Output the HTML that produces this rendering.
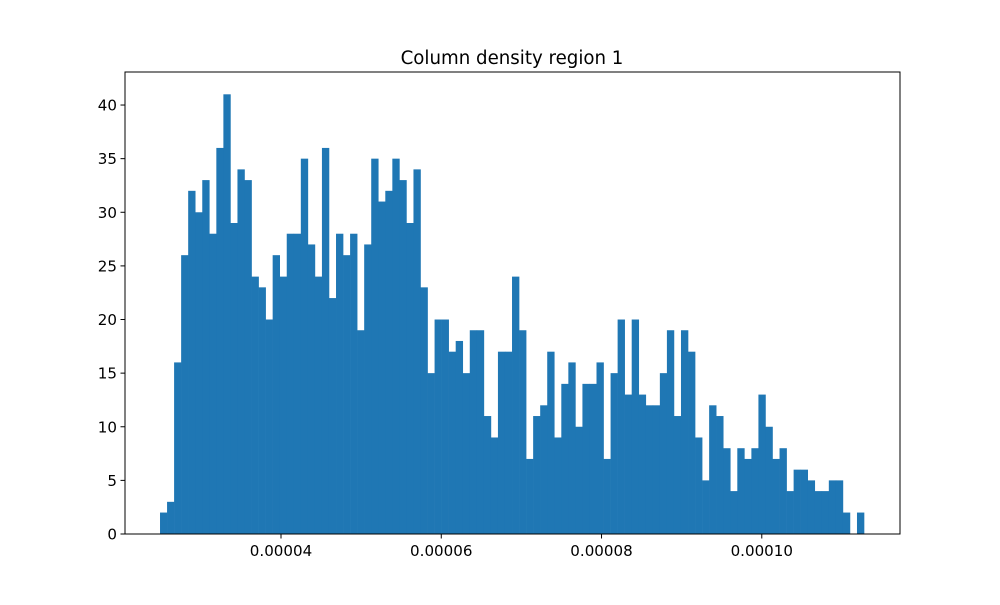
<!DOCTYPE html>
<html><head><meta charset="utf-8"><style>
body{margin:0;background:#fff}
svg text{font-family:"DejaVu Sans","Liberation Sans",sans-serif;fill:#000}
</style></head><body>
<svg id="chart" width="1000" height="600">
<rect width="1000" height="600" fill="#fff"/>
<text x="512" y="64" font-size="18.2" text-anchor="middle">Column density region 1</text>
<g id="bars"></g>
<g id="axes"></g>
</svg>
<script>
const counts = [2,3,16,26,32,30,33,28,36,41,29,34,33,24,23,20,26,24,28,28,35,27,24,36,22,28,26,28,19,27,35,31,32,35,33,29,34,23,15,20,20,17,18,15,19,19,11,9,17,17,24,19,7,11,12,17,9,14,16,10,14,14,16,7,15,20,13,20,13,12,12,15,19,11,19,17,9,5,12,11,8,4,8,7,8,13,10,7,8,4,6,6,5,4,4,5,5,2,0,2];
const binStart = 2.490e-5;
const binEnd = 1.1276e-4;
const xTicks = [0.00004,0.00006,0.00008,0.00010];
const xTickLabels = ["0.00004","0.00006","0.00008","0.00010"];
const yTicks = [0,5,10,15,20,25,30,35,40];

const L=125,R=900,T=72,B=534;
const xMin=2.053e-5, xMax=1.1725e-4, yMax=43.08;
const xs=v=>L+(v-xMin)/(xMax-xMin)*(R-L);
const ys=v=>B-v/yMax*(B-T);
const NS="http://www.w3.org/2000/svg";
const bars=document.getElementById('bars');
const axes=document.getElementById('axes');
const bw=(binEnd-binStart)/counts.length;
counts.forEach((c,i)=>{
  if(c<=0) return;
  const r=document.createElementNS(NS,'rect');
  const x0=xs(binStart+i*bw), x1=xs(binStart+(i+1)*bw);
  r.setAttribute('x',x0); r.setAttribute('width',x1-x0+0.3);
  r.setAttribute('y',ys(c)); r.setAttribute('height',B-ys(c));
  r.setAttribute('fill','#1f77b4');
  
  
  bars.appendChild(r);
});
const frame=document.createElementNS(NS,'rect');
frame.setAttribute('x',L);frame.setAttribute('y',T);frame.setAttribute('width',R-L);frame.setAttribute('height',B-T);
frame.setAttribute('fill','none');frame.setAttribute('stroke','#000');frame.setAttribute('stroke-width','1');


axes.appendChild(frame);
xTicks.forEach((v,i)=>{
  const x=xs(v);
  const l=document.createElementNS(NS,'line');
  l.setAttribute('x1',x);l.setAttribute('x2',x);l.setAttribute('y1',B);l.setAttribute('y2',B+4.5);l.setAttribute('stroke','#000');
  
  
  axes.appendChild(l);
  const t=document.createElementNS(NS,'text');
  t.setAttribute('x',x);t.setAttribute('y',B+22);t.setAttribute('font-size','15.1');t.setAttribute('text-anchor','middle');
  t.textContent=xTickLabels[i];
  
  
  axes.appendChild(t);
});
yTicks.forEach(v=>{
  const y=ys(v);
  const l=document.createElementNS(NS,'line');
  l.setAttribute('x1',L-4.5);l.setAttribute('x2',L);l.setAttribute('y1',y);l.setAttribute('y2',y);l.setAttribute('stroke','#000');
  
  
  axes.appendChild(l);
  const t=document.createElementNS(NS,'text');
  t.setAttribute('x',L-8);t.setAttribute('y',y+5.5);t.setAttribute('font-size','15.1');t.setAttribute('text-anchor','end');
  t.textContent=v;
  
  
  axes.appendChild(t);
});
</script>
</body></html>
